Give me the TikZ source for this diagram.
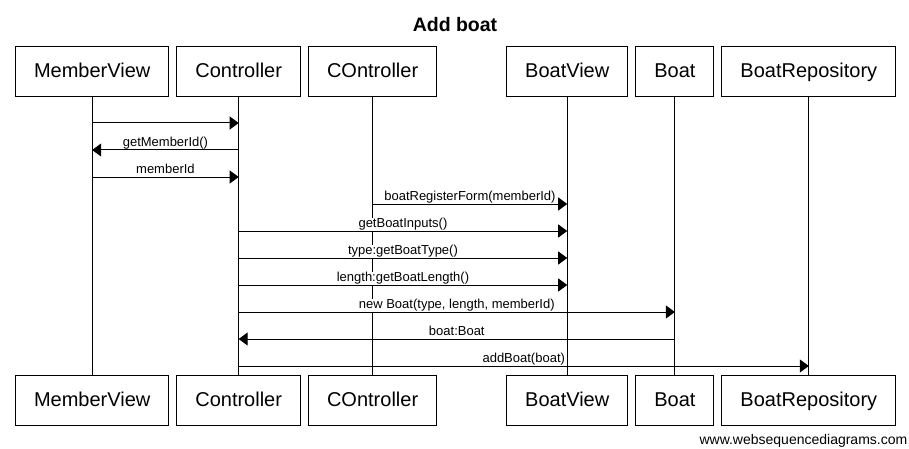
\documentclass[tikz,border=0pt]{standalone}
\usepackage{fontspec}
\setmainfont{Liberation Sans}
\usetikzlibrary{positioning,arrows.meta}
\tikzset{%
  lifeBox/.style={%
    rectangle,
    draw=black,
    line width=1pt,
    fill=white,
    font=\fontsize{20}{24}\selectfont,
    inner xsep=18.5pt,
    minimum height=50pt,
    text height=13pt,
    text depth=1pt
  },
  lifeLine/.style={%
    line width=1pt,
    color=black
  },
  msgArrow/.style={%
    -{Triangle[length=9pt,width=13pt]},
    line width=1pt,
    color=black
  },
  msgLabel/.style={%
    anchor=south,
    fill=white,
    inner sep=0.5pt,
    font=\fontsize{13}{15}\selectfont,
    text height=9.5pt,
    text depth=2.5pt
  }
}
\begin{document}
\begin{tikzpicture}
            \fill[white] (0,0) rectangle (909pt,-449pt);
            \useasboundingbox (0,0) rectangle (909pt,-449pt);

            \node[font=\bfseries\fontsize{19.5}{23}\selectfont, anchor=base] (title) at (455pt,-32pt) {Add boat};

            % participants, top row
            \node[lifeBox, anchor=north west] (mv) at (15pt,-46pt) {MemberView};
            \node[lifeBox, right=7pt of mv] (ctrl) {Controller};
            \node[lifeBox, right=7pt of ctrl] (cOntrl) {COntroller};
            \node[lifeBox, right=69pt of cOntrl] (bv) {BoatView};
            \node[lifeBox, right=7pt of bv] (boat) {Boat};
            \node[lifeBox, right=7pt of boat] (repo) {BoatRepository};

            % participants, bottom row
            \node[lifeBox, below=278pt of mv] (mvB) {MemberView};
            \node[lifeBox, below=278pt of ctrl] (ctrlB) {Controller};
            \node[lifeBox, below=278pt of cOntrl] (cOntrlB) {COntroller};
            \node[lifeBox, below=278pt of bv] (bvB) {BoatView};
            \node[lifeBox, below=278pt of boat] (boatB) {Boat};
            \node[lifeBox, below=278pt of repo] (repoB) {BoatRepository};

            \draw[lifeLine] (mv) -- (mvB);
            \draw[lifeLine] (ctrl) -- (ctrlB);
            \draw[lifeLine] (cOntrl) -- (cOntrlB);
            \draw[lifeLine] (bv) -- (bvB);
            \draw[lifeLine] (boat) -- (boatB);
            \draw[lifeLine] (repo) -- (repoB);

            % messages
            \draw[msgArrow] (mv |- 0,-123pt) -- (ctrl |- 0,-123pt);
            \draw[msgArrow] (ctrl |- 0,-150pt) -- node[msgLabel] {getMemberId()} (mv |- 0,-150pt);
            \draw[msgArrow] (mv |- 0,-177pt) -- node[msgLabel] {memberId} (ctrl |- 0,-177pt);
            \draw[msgArrow] (cOntrl |- 0,-204pt) -- node[msgLabel] {boatRegisterForm(memberId)} (bv |- 0,-204pt);
            \draw[msgArrow] (ctrl |- 0,-231pt) -- node[msgLabel] {getBoatInputs()} (bv |- 0,-231pt);
            \draw[msgArrow] (ctrl |- 0,-258pt) -- node[msgLabel] {type:getBoatType()} (bv |- 0,-258pt);
            \draw[msgArrow] (ctrl |- 0,-285pt) -- node[msgLabel] {length:getBoatLength()} (bv |- 0,-285pt);
            \draw[msgArrow] (ctrl |- 0,-312pt) -- node[msgLabel] {new Boat(type, length, memberId)} (boat |- 0,-312pt);
            \draw[msgArrow] (boat |- 0,-339pt) -- node[msgLabel] {boat:Boat} (ctrl |- 0,-339pt);
            \draw[msgArrow] (ctrl |- 0,-366pt) -- node[msgLabel] {addBoat(boat)} (repo |- 0,-366pt);

            \node[anchor=east, inner sep=0pt, font=\fontsize{14}{16}\selectfont] (wsd) at (907.5pt,-441pt) {www.websequencediagrams.com};
        \end{tikzpicture}
\end{document}
